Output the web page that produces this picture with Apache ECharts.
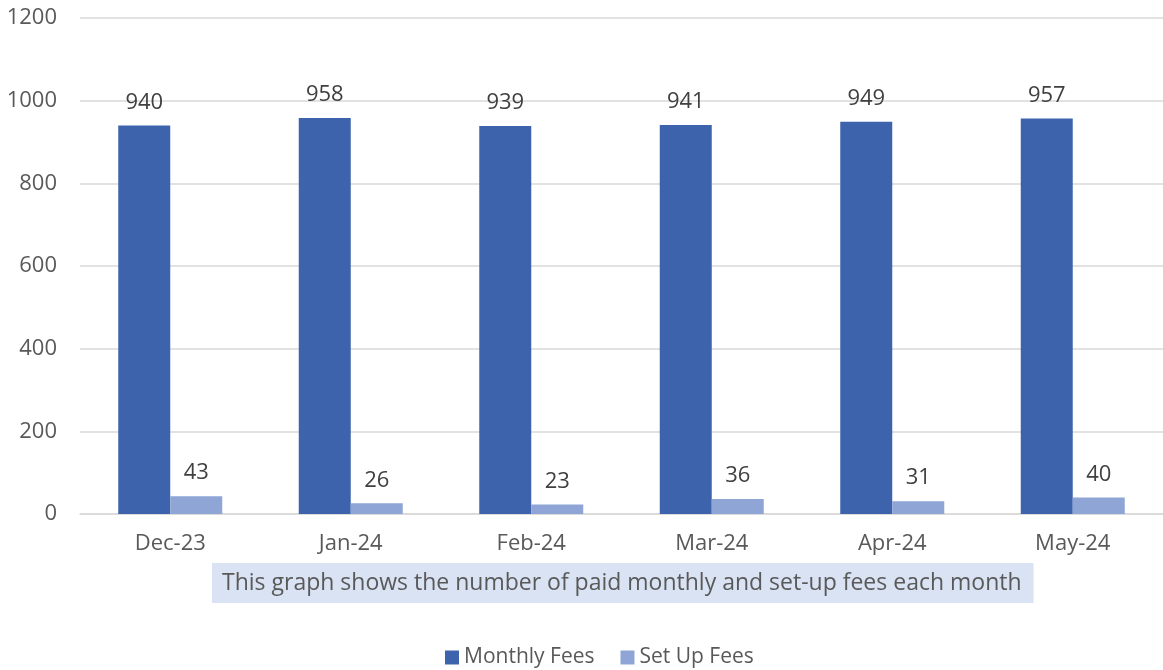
<!DOCTYPE html>
<html>
<head>
<meta charset="utf-8">
<script src="https://cdn.jsdelivr.net/npm/echarts@6/dist/echarts.min.js"></script>
<style>
  html, body { margin: 0; padding: 0; background: #fff; }
  #chart { width: 1163px; height: 670px; }
</style>
</head>
<body>
<div id="chart"></div>
<script>
const months = ['Dec-23', 'Jan-24', 'Feb-24', 'Mar-24', 'Apr-24', 'May-24'];
const monthlyFees = [940, 958, 939, 941, 949, 957];
const setUpFees = [43, 26, 23, 36, 31, 40];
const caption = 'This graph shows the number of paid monthly and set-up fees each month';

const font = 'Open Sans';
const textColor = '#595959';

const chart = echarts.init(document.getElementById('chart'));

const barLabel = {
  show: true,
  position: 'top',
  distance: 12,
  color: '#404040',
  fontFamily: font,
  fontSize: 22
};

chart.setOption({
  animation: false,
  title: {
    text: caption,
    left: 212,
    top: 563,
    backgroundColor: '#DAE3F3',
    padding: [6, 12, 6, 10],
    textStyle: { color: textColor, fontFamily: font, fontSize: 23, fontWeight: 'normal', lineHeight: 28 }
  },
  legend: {
    left: 440,
    top: 642,
    itemWidth: 14,
    itemHeight: 14,
    itemGap: 26,
    icon: 'rect',
    textStyle: { color: textColor, fontFamily: font, fontSize: 21 },
    data: ['Monthly Fees', 'Set Up Fees']
  },
  grid: { left: 80, right: 0, top: 18, bottom: 156 },
  xAxis: {
    type: 'category',
    data: months,
    axisLine: { lineStyle: { color: '#D9D9D9', width: 1.5 } },
    axisTick: { show: false },
    axisLabel: { color: textColor, fontFamily: font, fontSize: 22, margin: 19 }
  },
  yAxis: {
    type: 'value',
    min: 0,
    max: 1200,
    interval: 200,
    axisLine: { show: false },
    axisTick: { show: false },
    splitLine: { lineStyle: { color: '#D9D9D9', width: 1.5 } },
    axisLabel: {
      color: textColor, fontFamily: font, fontSize: 22, margin: 23,
      formatter: v => String(v)
    }
  },
  series: [
    {
      name: 'Monthly Fees',
      type: 'bar',
      data: monthlyFees,
      barWidth: 52,
      barGap: '0%',
      itemStyle: { color: '#3C63AC' },
      label: barLabel
    },
    {
      name: 'Set Up Fees',
      type: 'bar',
      data: setUpFees,
      barWidth: 52,
      itemStyle: { color: '#8EA5D6' },
      label: barLabel
    }
  ]
});
</script>
</body>
</html>
